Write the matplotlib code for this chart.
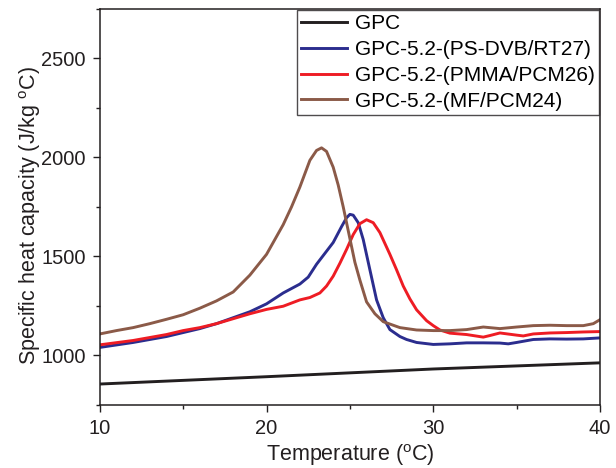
import matplotlib
matplotlib.use("Agg")
import matplotlib.pyplot as plt
from matplotlib.ticker import MultipleLocator

plt.rcParams['font.family'] = ['Liberation Sans', 'DejaVu Sans']
plt.rcParams['mathtext.fontset'] = 'custom'
plt.rcParams['mathtext.rm'] = 'Liberation Sans'

# GPC (plain)
t_gpc = [10, 20, 30, 40]
cp_gpc = [855, 892, 931, 962]

# GPC-5.2-(PS-DVB/RT27)
t_ps = [10, 12, 14, 15, 16, 17, 18, 19, 20, 21, 22, 22.5, 23, 23.5, 24, 24.5,
        24.8, 25, 25.2, 25.5, 25.8, 26.2, 26.6, 27, 27.4, 28, 28.4, 29, 30, 31,
        32, 33, 34, 34.5, 35, 36, 37, 38, 39, 40]
cp_ps = [1040, 1065, 1095, 1115, 1135, 1160, 1190, 1220, 1260, 1315, 1360, 1395,
         1460, 1515, 1570, 1650, 1695, 1712, 1708, 1670, 1585, 1432, 1280, 1190,
         1130, 1095, 1080, 1065, 1055, 1058, 1063, 1063, 1062, 1058, 1065, 1080,
         1083, 1082, 1083, 1088]

# GPC-5.2-(PMMA/PCM26)
t_pmma = [10, 12, 14, 15, 16, 17, 18, 19, 20, 21, 22, 22.6, 23.2, 23.6, 24, 24.4,
          24.8, 25.2, 25.6, 26, 26.4, 26.8, 27.4, 27.8, 28.2, 28.6, 29, 29.6, 30,
          30.4, 31, 32, 33, 33.4, 34, 35, 35.4, 36, 37, 38, 39, 40]
cp_pmma = [1053, 1075, 1105, 1125, 1140, 1160, 1185, 1210, 1232, 1248, 1280, 1292,
           1315, 1350, 1400, 1465, 1535, 1610, 1665, 1685, 1670, 1620, 1510, 1432,
           1350, 1285, 1230, 1175, 1150, 1128, 1112, 1105, 1092, 1100, 1113, 1102,
           1098, 1108, 1113, 1115, 1118, 1120]

# GPC-5.2-(MF/PCM24)
t_mf = [10, 11, 12, 13, 14, 15, 16, 17, 18, 19, 20, 21, 21.5, 22, 22.6, 23, 23.3,
        23.6, 24, 24.3, 24.6, 25, 25.3, 25.6, 26, 26.5, 27, 28, 29, 30, 31, 32,
        33, 34, 35, 36, 37, 38, 39, 39.6, 40]
cp_mf = [1108, 1125, 1140, 1160, 1182, 1205, 1238, 1275, 1320, 1405, 1510, 1660,
         1750, 1850, 1985, 2035, 2048, 2030, 1950, 1860, 1750, 1590, 1470, 1380,
         1270, 1210, 1170, 1140, 1128, 1125, 1125, 1130, 1143, 1135, 1143, 1150,
         1152, 1150, 1150, 1160, 1180]

series = [
    (t_gpc, cp_gpc, 'GPC', '#231f20'),
    (t_ps, cp_ps, 'GPC-5.2-(PS-DVB/RT27)', '#2b2d8e'),
    (t_pmma, cp_pmma, 'GPC-5.2-(PMMA/PCM26)', '#ee1c24'),
    (t_mf, cp_mf, 'GPC-5.2-(MF/PCM24)', '#8b5a48'),
]

fig = plt.figure(figsize=(6.16, 4.68), dpi=100)
ax = fig.add_axes([0.162, 0.135, 0.812, 0.846])

for t, cp, name, col in series:
    ax.plot(t, cp, color=col, lw=2.1, label=name, solid_joinstyle='round')

ax.set_xlim(10, 40)
ax.set_ylim(750, 2750)
ax.xaxis.set_major_locator(MultipleLocator(10))
ax.xaxis.set_minor_locator(MultipleLocator(5))
ax.yaxis.set_major_locator(MultipleLocator(500))
ax.yaxis.set_minor_locator(MultipleLocator(250))
ax.tick_params(which='both', direction='out', top=False, right=False,
               labelsize=14.5, width=1, colors='#231f20')
ax.tick_params(which='major', length=5, pad=5)
ax.tick_params(which='minor', length=3)
for s in ax.spines.values():
    s.set_linewidth(1.1)
    s.set_color('#231f20')

ax.set_xlabel('Temperature ($^{\\mathrm{o}}$C)', fontsize=15.5, color='#231f20', labelpad=3)
ax.set_ylabel('Specific heat capacity (J/kg $^{\\mathrm{o}}$C)', fontsize=15.5,
              color='#231f20')
ax.yaxis.set_label_coords(-0.114, 0.477)

# legend in the top right corner, square black frame
leg = ax.legend(loc='upper right', fontsize=15, frameon=True, fancybox=False,
                edgecolor='#231f20', handlelength=2.2, handletextpad=0.4,
                labelspacing=0.33, borderpad=0.2, borderaxespad=0.05)
leg.get_frame().set_linewidth(1.0)

fig.savefig('out.png', dpi=100)
